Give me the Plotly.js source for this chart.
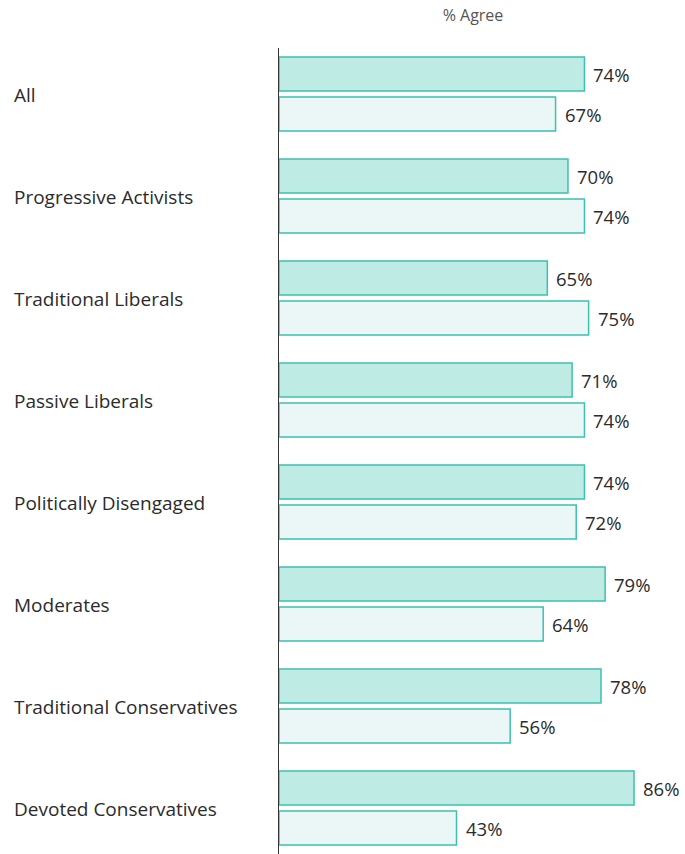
<!DOCTYPE html>
<html>
<head>
<meta charset="utf-8">
<script src="https://cdn.plot.ly/plotly-3.0.1.min.js"></script>
<style>html,body{margin:0;padding:0;background:#fff;}#chart{width:685px;height:854px;}</style>
</head>
<body>
<div id="chart"></div>
<script>
var categories = ["All","Progressive Activists","Traditional Liberals","Passive Liberals","Politically Disengaged","Moderates","Traditional Conservatives","Devoted Conservatives"];
var seriesA = [74,70,65,71,74,79,78,86];
var seriesB = [67,74,75,74,72,64,56,43];
var seriesNames = ["Series A","Series B"];
var axisTitle = "% Agree";

var border = "#3bc1ae";
var traces = [
  {type:"bar", orientation:"h", name:seriesNames[0], y:categories, x:seriesA,
   marker:{color:"#bfebe5", line:{color:border, width:1.5}}, hoverinfo:"x+y"},
  {type:"bar", orientation:"h", name:seriesNames[1], y:categories, x:seriesB,
   marker:{color:"#eaf7f6", line:{color:border, width:1.5}}, hoverinfo:"x+y"}
];

var font = "'Open Sans', 'Noto Sans', sans-serif";
var annotations = [];
categories.forEach(function(c,i){
  annotations.push({xref:"paper", yref:"y", x:-0.6576, y:c, xanchor:"left", yanchor:"middle",
    yshift:-1, text:c, showarrow:false, font:{family:font, size:19, color:"#2b2b2b"}});
  annotations.push({xref:"x", yref:"y", x:seriesA[i], y:c, xanchor:"left", yanchor:"middle",
    xshift:7, yshift:20, text:seriesA[i]+"%", showarrow:false, font:{family:font, size:18.5, color:"#2b2b2b"}});
  annotations.push({xref:"x", yref:"y", x:seriesB[i], y:c, xanchor:"left", yanchor:"middle",
    xshift:7, yshift:-20, text:seriesB[i]+"%", showarrow:false, font:{family:font, size:18.5, color:"#2b2b2b"}});
});

var layout = {
  width:685, height:854,
  margin:{l:279, r:0, t:48, b:0, pad:0},
  paper_bgcolor:"#fff", plot_bgcolor:"#fff",
  showlegend:false,
  barmode:"group", bargap:0.216, bargroupgap:0.15,
  title:{text:axisTitle, xref:"container", yref:"container", x:0.6905, y:0.9824,
    xanchor:"center", yanchor:"middle", font:{family:font, size:16, color:"#555"}},
  xaxis:{range:[0,98.35], showgrid:false, zeroline:false, showticklabels:false, showline:false, fixedrange:true},
  yaxis:{type:"category", range:[7.451,-0.451], showgrid:false, zeroline:false, showticklabels:false,
    showline:true, linecolor:"#333", linewidth:1, ticks:"", fixedrange:true},
  annotations:annotations
};

Plotly.newPlot("chart", traces, layout, {displayModeBar:false, staticPlot:true});
</script>
</body>
</html>
